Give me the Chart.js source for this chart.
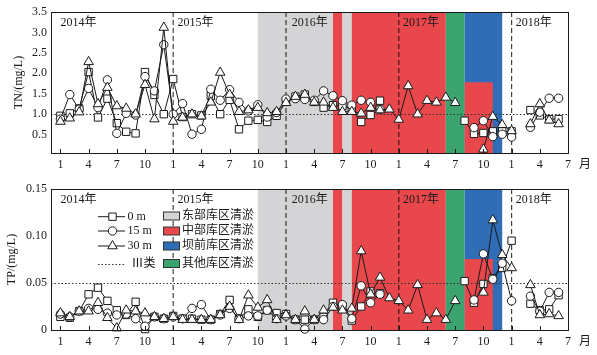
<!DOCTYPE html>
<html><head><meta charset="utf-8">
<script src="https://cdn.jsdelivr.net/npm/chart.js@4.4.1/dist/chart.umd.min.js"></script>
<style>
html,body{margin:0;padding:0;background:#fff;}
#wrap{position:relative;width:597px;height:355px;overflow:hidden;}
canvas{position:absolute;left:0;}
#c1{top:0;} #c2{top:177px;}
</style></head><body>
<div id="wrap"><canvas id="c1" width="597" height="177"></canvas><canvas id="c2" width="597" height="178"></canvas></div>
<script>
// ---- data: monthly, index 0 = Jan 2014 ... index 53 = Jun 2018 ----
const tnSquare = [
  0.96,1.02,1.14,2.03,0.92,1.38,0.78,0.57,0.53,2.03,1.47,1.00,
  1.86,0.93,1.00,0.97,1.45,1.00,1.35,0.63,0.84,0.86,0.81,0.96,
  1.30,1.43,1.48,1.30,1.16,1.22,1.20,1.14,0.81,0.98,1.33,null,
  null,null,null,null,null,null,null,0.84,0.52,0.54,0.58,0.58,
  0.58,null,1.10,0.97,0.88,0.88];
const tnCircle = [
  0.88,1.48,1.12,1.63,1.16,1.84,0.53,1.02,0.98,1.92,1.57,2.70,
  1.00,1.26,0.51,0.63,1.61,1.34,1.60,1.29,1.08,1.23,0.93,1.04,
  1.37,1.38,1.36,1.34,1.57,1.45,1.33,1.22,1.34,1.29,1.12,null,
  null,null,null,null,null,null,null,null,0.67,0.84,0.45,0.51,
  0.44,null,0.68,1.05,1.39,1.39];
const tnTriangle = [
  0.82,0.90,1.05,2.28,1.25,1.65,1.20,1.14,1.00,1.72,0.88,3.12,
  0.82,0.92,1.00,0.95,1.29,2.02,1.48,1.06,1.10,1.16,1.03,1.06,
  1.28,1.43,1.48,1.29,1.29,1.16,1.06,1.06,1.02,1.16,1.10,1.12,
  0.87,1.69,1.00,1.33,1.29,1.41,1.28,null,null,0.14,0.94,0.74,
  0.59,null,0.76,1.25,0.85,0.76];
const tpSquare = [
  0.014,0.013,0.020,0.038,0.045,0.031,0.021,0.016,0.030,0.001,0.014,0.012,
  0.015,0.012,0.012,0.011,0.011,0.017,0.032,0.012,0.022,0.014,0.021,0.018,
  0.017,0.011,0.011,0.011,0.014,0.029,0.025,0.010,0.025,0.041,0.039,null,
  null,null,null,null,null,null,null,0.052,0.029,0.049,0.055,0.066,
  0.095,null,0.028,0.021,0.022,0.037];
const tpCircle = [
  0.017,0.014,0.020,0.023,0.022,0.018,0.016,0.017,0.012,0.004,0.014,0.012,
  0.014,0.012,0.023,0.027,0.011,0.016,0.023,0.012,0.015,0.015,0.021,0.012,
  0.015,0.011,0.001,0.011,0.011,0.025,0.027,0.012,0.047,0.029,0.038,null,
  null,null,null,null,null,null,null,null,0.032,0.081,0.054,0.071,
  0.031,null,0.036,0.020,0.040,0.040];
const tpTriangle = [
  0.018,0.014,0.020,0.020,0.029,0.013,0.002,0.021,0.020,0.018,0.014,0.012,
  0.014,0.011,0.011,0.011,0.011,0.016,0.025,0.011,0.037,0.024,0.032,0.011,
  0.016,0.011,0.020,0.011,0.021,0.024,0.021,0.023,0.084,0.038,0.056,0.034,
  0.031,0.021,0.048,0.011,0.018,0.011,0.031,null,null,0.040,0.117,0.080,
  0.066,null,0.048,0.016,0.017,0.015];

const seriesLabels = ['0 m','15 m','30 m'];
const refLabel = 'Ⅲ类';
const tnRef = 1.0, tpRef = 0.05;

const xTickValues = [0,3,6,9,12,15,18,21,24,27,30,33,36,39,42,45,48,51,54];
const xTickLabels = ['1','4','7','10','1','4','7','10','1','4','7','10','1','4','7','10','1','4','7'];
const xUnit = '月';
const tnTicks = [0.5,1.0,1.5,2.0,2.5,3.0,3.5];
const tpTicks = [0,0.05,0.10,0.15];
const tpTickLabels = ['0','0.05','0.10','0.15'];

const yearLabels = ['2014年','2015年','2016年','2017年','2018年'];
const yearLabelX = [0,12.45,24.6,36.45,48.45];
const yearBoundary = [12,24,36,48];

// dredging periods (month index)
const regionLabels = ['东部库区清淤','中部库区清淤','坝前库区清淤','其他库区清淤'];
const regionLegendColor = ['#d4d4d6','#e8474c','#2f6db6','#3ba36e'];
const regionStart = [21,29,30,31,41,43,43];
const regionEnd   = [29,30,31,41,43,47,46];
const regionKind  = [0,1,0,1,3,2,1];
const regionTopTN = [null,null,null,null,null,null,1.78];
const regionTopTP = [null,null,null,null,null,null,0.0755];

const FONT = "'Liberation Serif','Times New Roman','Noto Sans CJK SC',serif";
const INK = '#1a1a1a';

function mkDs(label, arr, style, r, order){
  return {label, data: arr.map((v,i)=>({x:i,y:v})), borderColor:INK, borderWidth:1,
    pointStyle:style, pointRadius:r, pointHoverRadius:r, pointBackgroundColor:'#fff',
    pointBorderColor:INK, pointBorderWidth:1, spanGaps:false, tension:0, order, clip:false};
}

function panelPlugin(p){
  return {
    id:'panel'+p.key,
    beforeDatasetsDraw(chart){
      const {ctx, chartArea:a, scales:{x,y}} = chart;
      ctx.save();
      ctx.beginPath(); ctx.rect(a.left,a.top,a.right-a.left,a.bottom-a.top); ctx.clip();
      regionStart.forEach((s,i)=>{
        const x0 = x.getPixelForValue(s), x1 = x.getPixelForValue(regionEnd[i]);
        const t = p.regionTop[i];
        const y0 = t==null ? a.top : y.getPixelForValue(t);
        ctx.fillStyle = regionLegendColor[regionKind[i]];
        ctx.fillRect(x0,y0,x1-x0,a.bottom-y0);
      });
      const yr = Math.round(y.getPixelForValue(p.ref))+0.5;
      ctx.strokeStyle='#333'; ctx.lineWidth=1; ctx.setLineDash([1.5,2]);
      ctx.beginPath(); ctx.moveTo(a.left,yr); ctx.lineTo(a.right,yr); ctx.stroke();
      ctx.setLineDash([5,3]); ctx.strokeStyle='rgba(0,0,0,0.75)'; ctx.lineWidth=1.2;
      yearBoundary.forEach(v=>{const xx=x.getPixelForValue(v);
        ctx.beginPath(); ctx.moveTo(xx,a.top); ctx.lineTo(xx,a.bottom); ctx.stroke();});
      ctx.setLineDash([]);
      ctx.fillStyle=INK; ctx.font='12px '+FONT; ctx.textBaseline='middle'; ctx.textAlign='left';
      yearLabels.forEach((t,i)=>ctx.fillText(t, x.getPixelForValue(yearLabelX[i]), a.top+11));
      ctx.restore();
    },
    afterDatasetsDraw(chart){
      const {ctx, chartArea:a, scales:{x}} = chart;
      ctx.save();
      ctx.strokeStyle=INK; ctx.lineWidth=1;
      ctx.strokeRect(Math.round(a.left)+0.5, Math.round(a.top)+0.5, Math.round(a.right-a.left), Math.round(a.bottom-a.top));
      x.ticks.forEach(t=>{const xx=Math.round(x.getPixelForValue(t.value))+0.5;
        ctx.beginPath(); ctx.moveTo(xx,a.bottom); ctx.lineTo(xx,a.bottom-4); ctx.stroke();});
      ctx.fillStyle=INK; ctx.font='12px '+FONT; ctx.textAlign='center'; ctx.textBaseline='middle';
      ctx.fillText(xUnit, a.right+17, a.bottom+12);
      if (p.legend){
        const rows=[39.7,54,69,87];
        const styles=['rect','circle','triangle'];
        const radii=[5.2,4.2,5.5];
        ctx.textAlign='left';
        for(let i=0;i<3;i++){
          ctx.strokeStyle=INK; ctx.lineWidth=1;
          ctx.beginPath(); ctx.moveTo(98,rows[i]); ctx.lineTo(125,rows[i]); ctx.stroke();
          ctx.fillStyle='#fff';
          Chart.helpers.drawPoint(ctx,{pointStyle:styles[i],radius:radii[i],rotation:0,borderWidth:1},112.5,rows[i]);
          ctx.fillStyle=INK; ctx.fillText(seriesLabels[i],127.5,rows[i]);
        }
        ctx.strokeStyle='#333'; ctx.setLineDash([1.5,2]);
        ctx.beginPath(); ctx.moveTo(98,rows[3]+0.5); ctx.lineTo(125,rows[3]+0.5); ctx.stroke();
        ctx.setLineDash([]);
        ctx.fillStyle=INK; ctx.fillText(refLabel,131.5,rows[3]);
        const brows=[39,54,69,86.5];
        regionLabels.forEach((t,i)=>{
          ctx.fillStyle=regionLegendColor[i];
          ctx.fillRect(163.5,brows[i]-4,16,8);
          ctx.strokeStyle='#333'; ctx.lineWidth=1;
          ctx.strokeRect(163.5,brows[i]-4,16,8);
          ctx.fillStyle=INK; ctx.fillText(t,182,brows[i]);
        });
      }
      ctx.restore();
    }
  };
}

function mkChart(id, sq, ci, tr, yopt, title, titlePad, xh, p){
  return new Chart(document.getElementById(id), {
    type:'line',
    data:{datasets:[mkDs(seriesLabels[0],sq,'rect',5.2,3), mkDs(seriesLabels[1],ci,'circle',4.2,2), mkDs(seriesLabels[2],tr,'triangle',5.5,1)]},
    options:{
      responsive:false, animation:false, devicePixelRatio:1,
      layout:{padding:{left:0,right:29,top:12,bottom:0}},
      plugins:{legend:{display:false}, tooltip:{enabled:false}},
      scales:{
        x:{type:'linear', min:-1, max:54,
          afterBuildTicks:s=>{s.ticks=xTickValues.map(v=>({value:v}));},
          afterFit:s=>{s.height=xh;},
          ticks:{autoSkip:false, maxRotation:0, padding:5, color:INK, font:{family:FONT,size:12},
            callback:(v,i)=>xTickLabels[i]},
          grid:{display:false, drawTicks:false}, border:{display:false}},
        y:Object.assign({
          afterFit:s=>{s.width=51;},
          grid:{display:false, drawTicks:false}, border:{display:false},
          title:{display:true, text:title, color:INK, font:{family:FONT,size:12}, padding:{top:titlePad,bottom:0}}
        }, yopt)
      }
    },
    plugins:[panelPlugin(p)]
  });
}

mkChart('c1', tnSquare, tnCircle, tnTriangle, {
  min:0.05, max:3.5,
  afterBuildTicks:s=>{s.ticks=tnTicks.map(v=>({value:v}));},
  ticks:{padding:4, color:INK, font:{family:FONT,size:12}, callback:v=>Number(v).toFixed(1)}
}, 'TN/(mg/L)', 12, 24, {key:'tn', ref:tnRef, regionTop:regionTopTN, legend:false});

mkChart('c2', tpSquare, tpCircle, tpTriangle, {
  min:0, max:0.15,
  afterBuildTicks:s=>{s.ticks=tpTicks.map(v=>({value:v}));},
  ticks:{padding:4, color:INK, font:{family:FONT,size:12}, callback:(v,i)=>tpTickLabels[i]}
}, 'TP/(mg/L)', 5, 25, {key:'tp', ref:tpRef, regionTop:regionTopTP, legend:true});
</script>
</body></html>
